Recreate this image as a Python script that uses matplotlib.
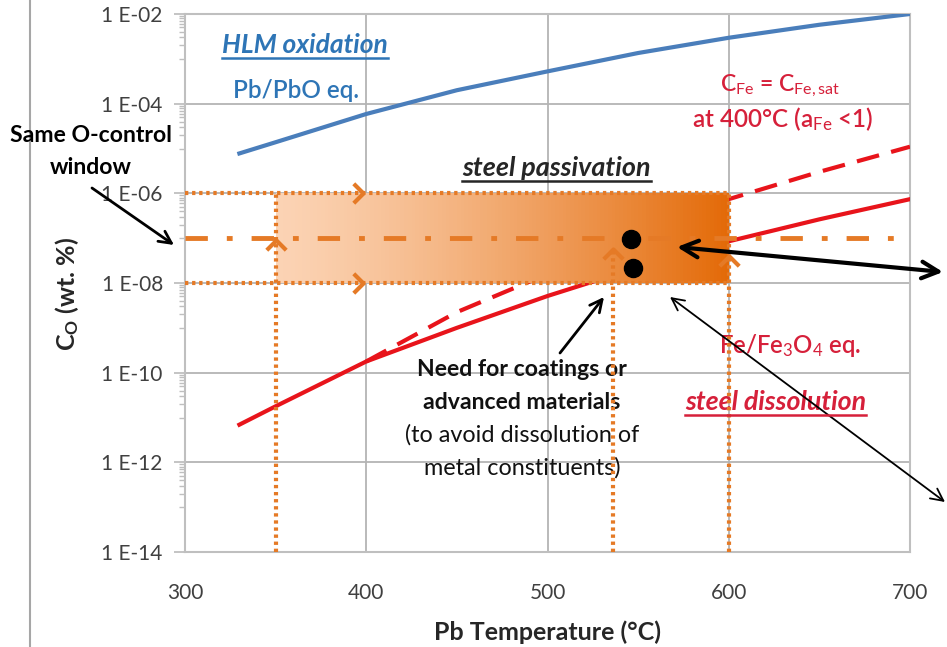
import numpy as np
import matplotlib
matplotlib.use("Agg")
import matplotlib.pyplot as plt
from matplotlib.path import Path
from matplotlib.lines import Line2D
from matplotlib.ticker import FixedLocator, FuncFormatter

plt.rcParams['font.family'] = ['Lato', 'DejaVu Sans']
plt.rcParams['mathtext.fontset'] = 'custom'
plt.rcParams['mathtext.rm'] = 'Lato'
plt.rcParams['mathtext.it'] = 'Lato:italic'
plt.rcParams['mathtext.bf'] = 'Lato:bold'

# --- data (log10 of C_O in wt.%) ---
temp_pbo = [330, 350, 400, 450, 500, 550, 600, 650, 700]
logc_pbo = [-5.11, -4.86, -4.23, -3.70, -3.28, -2.87, -2.53, -2.24, -2.00]

temp_fe = [330, 350, 400, 450, 500, 550, 600, 650, 700]
logc_fe = [-11.16, -10.75, -9.75, -9.00, -8.29, -7.65, -7.07, -6.58, -6.13]

temp_fe_sat = [400, 450, 500, 550, 600, 650, 700]
logc_fe_sat = [-9.75, -8.65, -7.80, -6.96, -6.13, -5.52, -4.96]

window_t = [350, 600]          # O-control window, temperature span
window_c = [1e-8, 1e-6]        # O-control window, concentration span
target_c = 1e-7                # dash-dot target line
t_limit = 536                  # limit for bare steels
dots_t = [546, 547]
dots_c = [10**-7.02, 10**-7.67]

yticks = [1e-14, 1e-12, 1e-10, 1e-8, 1e-6, 1e-4, 1e-2]
xticks = [300, 400, 500, 600, 700]

orange = '#E57A26'
blue_line = '#4A7EBB'
blue_txt = '#2E75B6'
red = '#E8141B'
red_txt = '#D6203A'
gray = '#BFBFBF'

fig = plt.figure(figsize=(9.47, 6.47), dpi=100)
ax = fig.add_axes([185/947, 1-552/647, (910-185)/947, (552-14)/647])
ax.set_yscale('log')
ax.set_xlim(300, 700)
ax.set_ylim(1e-14, 1e-2)

# grid & axes look
ax.xaxis.set_major_locator(FixedLocator(xticks))
ax.yaxis.set_major_locator(FixedLocator(yticks))
minor = [k * 10.0**m for m in range(-13, -2, 2) for k in range(1, 10)]
ax.yaxis.set_minor_locator(FixedLocator(minor))
ax.yaxis.set_minor_formatter(FuncFormatter(lambda v, p: ''))
ax.yaxis.set_major_formatter(FuncFormatter(lambda v, p: '1 E-%02d' % round(-np.log10(v))))
ax.grid(True, which='major', color='#B4B4B4', lw=1.3)
ax.set_axisbelow(True)
for s in ax.spines.values():
    s.set_color(gray)
    s.set_linewidth(1.5)
ax.tick_params(axis='y', which='major', length=8, color=gray, width=1.3,
               labelsize=15, labelcolor='#404040', pad=8)
ax.tick_params(axis='y', which='minor', length=4, color=gray, width=1)
ax.tick_params(axis='x', length=0, labelsize=15, labelcolor='#404040', pad=22)

# curves
ax.plot(temp_pbo, 10.0**np.array(logc_pbo), color=blue_line, lw=3, zorder=3)
ax.plot(temp_fe, 10.0**np.array(logc_fe), color=red, lw=3, zorder=3)
ax.plot(temp_fe_sat, 10.0**np.array(logc_fe_sat), color=red, lw=3,
        dashes=(5.5, 3), zorder=3)

# gradient window
c0 = np.array([251, 211, 180]) / 255
c1 = np.array([227, 106, 8]) / 255
edges = np.linspace(window_t[0], window_t[1], 121)
for i in range(120):
    f = (i / 119) ** 1.3
    ax.fill_between([edges[i], edges[i+1] + 0.3], window_c[0], window_c[1],
                    color=c0 + (c1 - c0) * f, lw=0, zorder=4)

# dotted guide lines
dot = dict(color=orange, lw=3, ls=(0, (0.8, 0.9)), zorder=5)
ax.plot([300, window_t[1]], [window_c[1]] * 2, **dot)
ax.plot([300, window_t[1]], [window_c[0]] * 2, **dot)
ax.plot([window_t[0]] * 2, [1e-14, window_c[1]], **dot)
ax.plot([window_t[1]] * 2, [1e-14, window_c[1]], **dot)
ax.plot([t_limit] * 2, [1e-14, 10**-7.3], **dot)

# dash-dot target line
ax.plot([300, 700], [target_c] * 2, color=orange, lw=3.5,
        dashes=(4.6, 3.9, 1.2, 3.9), zorder=6)

# chevrons
chev_r = Path([(-1, 1), (0, 0), (-1, -1)], [Path.MOVETO, Path.LINETO, Path.LINETO])
chev_u = Path([(-1, -1), (0, 0), (1, -1)], [Path.MOVETO, Path.LINETO, Path.LINETO])
ax.plot([398, 398], window_c, ls='none', marker=chev_r, ms=14, mfc='none',
        mec=orange, mew=3, zorder=7)
ax.plot([window_t[0], t_limit, window_t[1]], [10**-7.05, 10**-7.25, 10**-7.4],
        ls='none', marker=chev_u, ms=14, mfc='none', mec=orange, mew=3, zorder=7)

# black dots
ax.plot(dots_t, dots_c, 'o', color='black', ms=13, zorder=8)

# arrows (figure pixels)
def arrow(p0, p1, style, lw, ms):
    ax.annotate('', xy=p1, xytext=p0, xycoords='figure pixels',
                textcoords='figure pixels',
                arrowprops=dict(arrowstyle=style, color='black', lw=lw,
                                mutation_scale=ms, shrinkA=0, shrinkB=0),
                annotation_clip=False, zorder=9)

arrow((677, 647-247), (943, 647-272), '<->', 3, 30)
arrow((670, 647-297), (945, 647-502), '<->', 1.3, 22)
arrow((92, 647-188), (174, 647-245), '->', 2, 22)
arrow((560, 647-353), (604, 647-297), '->', 2, 22)

# texts
def lc(py):
    return 10 ** (-2 - (py - 14) / 44.8)

underlined = []
t = ax.text(366, lc(45), 'HLM oxidation', color=blue_txt, fontsize=19,
            fontstyle='italic', fontweight='bold', ha='center', va='center')
underlined.append((t, blue_txt))
ax.text(361, lc(90), 'Pb/PbO eq.', color=blue_txt, fontsize=17.5,
        fontweight='semibold', ha='center', va='center')
ax.text(628, lc(86), r'C$_{\mathrm{Fe}}$ = C$_{\mathrm{Fe,sat}}$', color=red_txt,
        fontsize=16.5, fontweight='semibold', ha='center', va='center')
ax.text(630, lc(119), r'at 400°C (a$_{\mathrm{Fe}}$ <1)', color=red_txt,
        fontsize=17.5, fontweight='semibold', ha='center', va='center')
t = ax.text(505, lc(168), 'steel passivation', color='#262626', fontsize=19.4,
            fontstyle='italic', fontweight='bold', ha='center', va='center')
underlined.append((t, '#262626'))
ax.text(634, lc(345), r'Fe/Fe$_{\mathrm{3}}$O$_{\mathrm{4}}$ eq.', color=red_txt,
        fontsize=17.2, fontweight='semibold', ha='center', va='center')
t = ax.text(626, lc(402), 'steel dissolution', color=red_txt, fontsize=19.3,
            fontstyle='italic', fontweight='bold', ha='center', va='center')
underlined.append((t, red_txt))
ax.text(486, lc(369), 'Need for coatings or', fontsize=16.6, fontweight='bold',
        ha='center', va='center', color='#111111')
ax.text(486, lc(402), 'advanced materials', fontsize=16.6, fontweight='bold',
        ha='center', va='center', color='#111111')
ax.text(486, lc(435), '(to avoid dissolution of', fontsize=16.8,
        ha='center', va='center', color='#111111')
ax.text(486, lc(467), 'metal constituents)', fontsize=16.8,
        ha='center', va='center', color='#111111')
fig.text(91/947, 1-135/647, 'Same O-control', fontsize=16.6, fontweight='bold',
         ha='center', va='center')
fig.text(91/947, 1-167/647, 'window', fontsize=16.6, fontweight='bold',
         ha='center', va='center')

ax.set_xlabel('Pb Temperature (°C)', fontsize=18, fontweight='bold',
              color='#262626', labelpad=13)
fig.text(67/947, 1-294/647, r'C$_{\mathbf{O}}$ (wt. %)', fontsize=18,
         fontweight='bold', color='#262626', rotation=90,
         ha='center', va='center')

# left border line of the figure
fig.add_artist(Line2D([30/947, 30/947], [0, 1], color='#A6A6A6', lw=1.5))

# underline the italic headers
fig.canvas.draw()
r = fig.canvas.get_renderer()
for t, c in underlined:
    bb = t.get_window_extent(r)
    y = (bb.y0 - 1) / 647
    fig.add_artist(Line2D([bb.x0 / 947, bb.x1 / 947], [y, y], color=c, lw=1.8))

fig.savefig('out.png', dpi=100)
